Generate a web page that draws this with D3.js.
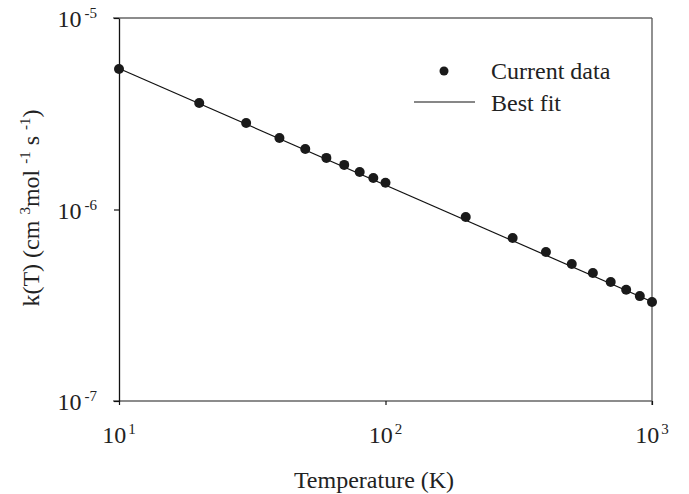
<!DOCTYPE html>
<html>
<head>
<meta charset="utf-8">
<script src="https://cdnjs.cloudflare.com/ajax/libs/d3/7.8.5/d3.min.js"></script>
<style>
  body { margin: 0; background: #fff; }
  text { font-family: "Liberation Serif", "Times New Roman", serif; fill: #222; }
</style>
</head>
<body>
<div id="chart"></div>
<script>
// measured rate constants
var temps = [10, 20, 30, 40, 50, 60, 70, 80, 90, 100, 200, 300, 400, 500, 600, 700, 800, 900, 1000];
var rates = [5.42e-6, 3.60e-6, 2.83e-6, 2.36e-6, 2.07e-6, 1.86e-6, 1.71e-6, 1.57e-6, 1.46e-6, 1.38e-6,
             9.13e-7, 7.10e-7, 6.00e-7, 5.19e-7, 4.66e-7, 4.18e-7, 3.81e-7, 3.53e-7, 3.29e-7];
// best fit line end points
var fitTemps = [10, 1000];
var fitRates = [5.45e-6, 3.30e-7];

var xTicks = [10, 100, 1000];
var xTickExp = ["1", "2", "3"];
var yTicks = [1e-7, 1e-6, 1e-5];
var yTickExp = ["-7", "-6", "-5"];
var legendLabels = ["Current data", "Best fit"];

const W = 689, H = 494;
const margin = {top: 18, right: 37, bottom: 93, left: 119};
const width = W - margin.left - margin.right;
const height = H - margin.top - margin.bottom;

var svg = d3.select('#chart').append('svg')
    .attr('width', W)
    .attr('height', H);

var g = svg.append('g')
    .attr('transform', 'translate(' + margin.left + ',' + margin.top + ')');

var x = d3.scaleLog().domain([10, 1000]).range([0, width]);
var y = d3.scaleLog().domain([1e-7, 1e-5]).range([height, 0]);

// frame
g.append('line').attr('x1', -6).attr('x2', width).attr('y1', 0).attr('y2', 0)
    .attr('stroke', '#666').attr('stroke-width', 1.6);
g.append('line').attr('x1', -6).attr('x2', width).attr('y1', height).attr('y2', height)
    .attr('stroke', '#666').attr('stroke-width', 1.6);
g.append('line').attr('x1', width).attr('x2', width).attr('y1', 0).attr('y2', height + 4)
    .attr('stroke', '#555').attr('stroke-width', 1.3);

var xAxis = g.append('g')
    .attr('transform', 'translate(0,' + height + ')')
    .call(d3.axisBottom(x).tickValues(xTicks).tickSize(4).tickSizeOuter(0).tickFormat(''));
var yAxis = g.append('g')
    .call(d3.axisLeft(y).tickValues(yTicks).tickSize(5).tickSizeOuter(0).tickFormat(''));

[xAxis, yAxis].forEach(function(a){
    a.select('.domain').attr('stroke', '#111').attr('stroke-width', 1.3);
    a.selectAll('.tick line').attr('stroke', '#111').attr('stroke-width', 1.2);
});
xAxis.select('.domain').attr('stroke', 'none');

// tick labels with superscripts
xTicks.forEach(function(t, i){
    var tx = g.append('text')
        .attr('x', x(t))
        .attr('y', height + 42)
        .attr('text-anchor', 'middle')
        .attr('font-size', '24px');
    tx.append('tspan').text('10');
    tx.append('tspan').attr('font-size', '15px').attr('dx', 2).attr('dy', -9).text(xTickExp[i]);
});
yTicks.forEach(function(t, i){
    var tx = g.append('text')
        .attr('x', -22)
        .attr('y', y(t) + 9)
        .attr('text-anchor', 'end')
        .attr('font-size', '24px');
    tx.append('tspan').text('10');
    tx.append('tspan').attr('font-size', '15px').attr('dx', 3).attr('dy', -9).text(yTickExp[i]);
});

// best fit line
g.append('path')
    .datum(fitTemps.map(function(t, i){ return [t, fitRates[i]]; }))
    .attr('d', d3.line().x(function(d){ return x(d[0]); }).y(function(d){ return y(d[1]); }))
    .attr('fill', 'none')
    .attr('stroke', '#111')
    .attr('stroke-width', 1.2);

// data points
g.selectAll('circle.pt')
    .data(temps)
    .enter()
    .append('circle')
    .attr('class', 'pt')
    .attr('cx', function(d){ return x(d); })
    .attr('cy', function(d, i){ return y(rates[i]); })
    .attr('r', 5)
    .attr('fill', '#1a1a1a');

// axis titles
svg.append('text')
    .attr('x', 374)
    .attr('y', 488)
    .attr('text-anchor', 'middle')
    .attr('font-size', '24px')
    .text('Temperature (K)');

var yl = svg.append('text')
    .attr('transform', 'translate(39,' + 208 + ') rotate(-90)')
    .attr('text-anchor', 'middle')
    .attr('font-size', '24px');
yl.append('tspan').text('k(T) (cm ');
yl.append('tspan').attr('font-size', '15px').attr('dy', -9).text('3');
yl.append('tspan').attr('dy', 9).text('mol ');
yl.append('tspan').attr('font-size', '15px').attr('dy', -9).text('-1');
yl.append('tspan').attr('dy', 9).text(' s ');
yl.append('tspan').attr('font-size', '15px').attr('dy', -9).text('-1');
yl.append('tspan').attr('dy', 9).text(')');

// legend
var lg = svg.append('g');
lg.append('circle').attr('cx', 444).attr('cy', 71).attr('r', 4.5).attr('fill', '#1a1a1a');
lg.append('text').attr('x', 491).attr('y', 79).attr('font-size', '24px').text(legendLabels[0]);
lg.append('line').attr('x1', 414).attr('x2', 475).attr('y1', 102).attr('y2', 102)
    .attr('stroke', '#111').attr('stroke-width', 1.2);
lg.append('text').attr('x', 491).attr('y', 111).attr('font-size', '24px').text(legendLabels[1]);
</script>
</body>
</html>
